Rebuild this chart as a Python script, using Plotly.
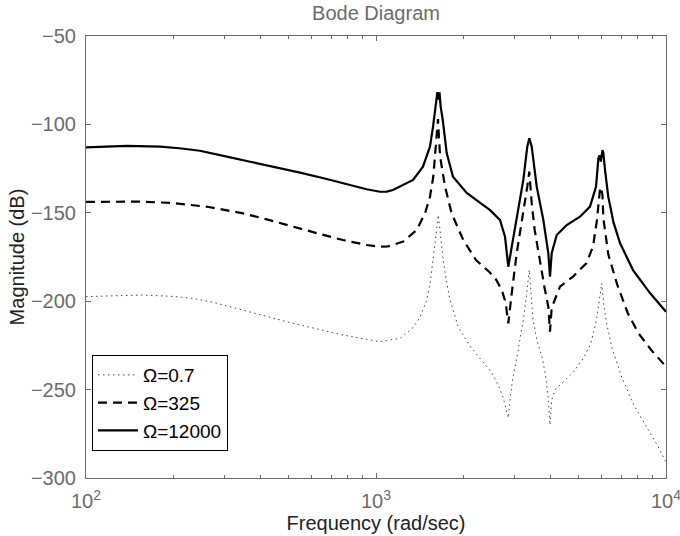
import plotly.graph_objects as go

# Frequency response magnitude for three spin speeds
w_07 = [100, 157, 200, 234, 280, 348, 517, 769, 1032, 1210, 1336, 1420, 1497, 1540,
        1573, 1610, 1640, 1670, 1700, 1750, 1800, 1920, 2100, 2300, 2500, 2650, 2750, 2820,
        2860, 2900, 2960, 3056, 3150, 3221, 3300, 3378, 3430, 3480, 3600, 3750, 3850, 3930,
        3980, 4030, 4150, 4400, 4800, 5200, 5500, 5760, 5900, 6003, 6100, 6250, 6500, 7000,
        7700, 8500, 9300, 10000]
mag_07 = [-197.4, -196.5, -197.3, -198.4, -201, -205, -212.5, -219.1, -222.9, -221,
          -215.3, -209, -199.3, -189, -175, -162, -151.2, -163, -175, -189, -199.3, -214.4,
          -225, -233, -240, -248, -255, -262, -266, -255, -244, -232.3, -220, -210.6, -197,
          -182.3, -197, -210.6, -223, -232.3, -243, -256, -270, -256, -250, -246, -240, -232,
          -224, -210.6, -200, -189.9, -202, -213, -226, -242, -258, -270, -281, -291]

w_325 = [100, 157, 200, 234, 265, 290, 348, 420, 517, 641, 769, 928, 1032, 1100, 1241, 1381,
         1476, 1535, 1576, 1597, 1619, 1636, 1652, 1664, 1730, 1823, 2000, 2212, 2460, 2600,
         2720, 2800, 2859, 2900, 2938, 3056, 3221, 3324, 3378, 3443, 3525, 3663, 3807, 3928,
         3981, 4030, 4090, 4310, 4780, 5310, 5600, 5780, 5870, 5930, 5990, 6040, 6080, 6324,
         6785, 7384, 8037, 8895, 10000]
mag_325 = [-143.8, -143.7, -144.5, -145.6, -146.7, -147.9, -150.3, -153.7, -157.9, -162,
           -165.4, -168.2, -169.2, -169, -166.3, -159.7, -150.3, -140.9, -129.6, -116.3, -107,
           -97, -110, -118.3, -135.2, -150.3, -165.4, -176.7, -183.5, -188, -194, -201,
           -212.5, -203, -195.5, -172.9, -150.3, -135.2, -126.7, -144.6, -159.7, -176.7,
           -191.8, -203.1, -217.2, -205, -201.2, -191.8, -186.1, -178.6, -169.2, -154.1,
           -142.8, -135.5, -137, -140, -153, -173.5, -190.5, -206.8, -218.2, -227.6, -237]

w_12000 = [100, 138, 180, 210, 247, 275, 306, 368, 454, 547, 676, 813, 928, 1032, 1090, 1144,
           1210, 1342, 1452, 1535, 1573, 1610, 1628, 1642, 1656, 1671, 1699, 1753, 1843, 2055,
           2284, 2473, 2677, 2785, 2859, 2938, 3056, 3221, 3324, 3378, 3443, 3583, 3776, 3928,
           3981, 4035, 4199, 4546, 5052, 5470, 5738, 5845, 5900, 5960, 6040, 6080, 6163, 6324,
           6463, 6580, 6940, 7696, 8807, 10000]
mag_12000 = [-113, -112.2, -112.6, -113.5, -114.9, -116.4, -118.2, -121.1, -124.3, -127.3,
             -130.9, -134.3, -136.7, -138.1, -138, -137.1, -135.2, -131.4, -123.9, -112.6,
             -101.3, -87.9, -81.8, -86, -81.8, -90, -97.5, -116.2, -129.6, -138.8, -144.5,
             -148.5, -154.1, -163.5, -180.5, -169.2, -154.1, -131.4, -112.6, -107.9, -112.6,
             -135.2, -154.1, -172.9, -186.1, -172.9, -162.6, -156.9, -152.2, -146.5, -135.2,
             -119.2, -117.5, -121, -114.5, -116, -125.8, -141, -148.4, -155, -167.1, -182.4,
             -195.4, -206]

x_tick_vals = [100, 1000, 10000]
x_tick_text = ["10<sup>2</sup>", "10<sup>3</sup>", "10<sup>4</sup>"]
x_minor_vals = [m * d for d in (100, 1000) for m in range(2, 10)]
y_tick_vals = [-300, -250, -200, -150, -100, -50]

FONT = "Liberation Sans, Arial, sans-serif"
AXIS_GRAY = "#6b6b6b"

fig = go.Figure()
fig.add_trace(go.Scatter(x=w_07, y=mag_07, mode="lines", name="Ω=0.7",
                         line=dict(color="#444444", width=1, dash="1.5px,3.5px")))
fig.add_trace(go.Scatter(x=w_325, y=mag_325, mode="lines", name="Ω=325",
                         line=dict(color="black", width=2.2, dash="9px,6px")))
fig.add_trace(go.Scatter(x=w_12000, y=mag_12000, mode="lines", name="Ω=12000",
                         line=dict(color="black", width=2.2)))

axis_common = dict(
    showline=True, linecolor=AXIS_GRAY, linewidth=1, mirror="allticks",
    ticks="inside", ticklen=5, tickcolor=AXIS_GRAY, tickwidth=1,
    showgrid=False, zeroline=False, automargin=False, ticklabeloverflow="allow",
    tickfont=dict(family=FONT, size=20, color=AXIS_GRAY),
)

fig.update_xaxes(
    type="log", range=[2, 4],
    tickvals=x_tick_vals, ticktext=x_tick_text, ticklabelstandoff=5,
    minor=dict(tickvals=x_minor_vals, ticks="inside", ticklen=3,
               tickcolor=AXIS_GRAY, showgrid=False),
    title=dict(text="Frequency (rad/sec)", font=dict(family=FONT, size=20, color="#222"),
               standoff=2),
    **axis_common,
)
fig.update_yaxes(
    range=[-300, -50], tickvals=y_tick_vals, ticklabelstandoff=5,
    title=dict(text="Magnitude (dB)", font=dict(family=FONT, size=20, color="#222"),
               standoff=0),
    **axis_common,
)

fig.update_layout(
    width=680, height=536,
    margin=dict(l=86, r=14, t=36, b=58),
    paper_bgcolor="white", plot_bgcolor="white",
    title=dict(text="Bode Diagram", x=0.5, xref="paper", y=0.976, yref="container",
               yanchor="middle", font=dict(family=FONT, size=20, color=AXIS_GRAY)),
    legend=dict(x=0.0103, y=0.061, xanchor="left", yanchor="bottom",
                bgcolor="white", bordercolor="black", borderwidth=1,
                font=dict(family=FONT, size=19, color="black"),
                itemwidth=40, tracegroupgap=0),
    showlegend=True,
)

fig.write_html("out.html")
